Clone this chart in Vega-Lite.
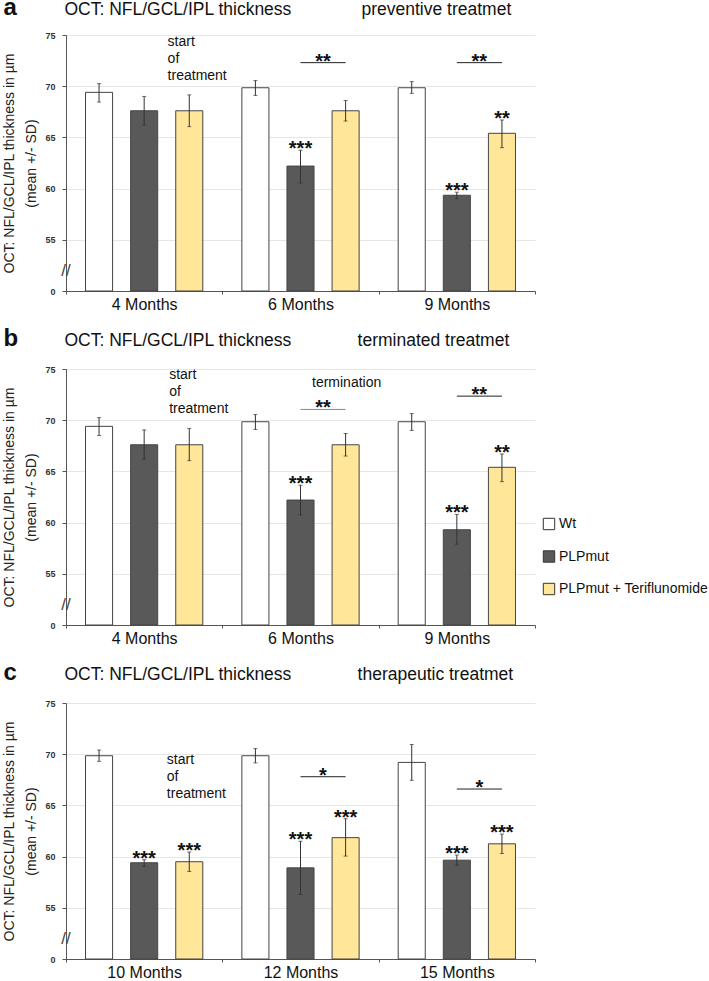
{
  "$schema": "https://vega.github.io/schema/vega-lite/v6.json",
  "padding": {"left": 2, "top": -5, "right": 0, "bottom": 0},
  "spacing": 15,
  "config": {
    "font": "Liberation Sans",
    "view": {"stroke": null},
    "text": {"font": "Liberation Sans", "color": "#111"},
    "axisX": {"tickBand": "extent", "labelAngle": 0, "labelFontSize": 16, "labelPadding": 2, "tickSize": 3, "domainColor": "#555", "tickColor": "#555", "labelColor": "#111", "grid": false, "title": null},
    "axisY": {"values": [50, 55, 60, 65, 70, 75], "labelExpr": "datum.value == 50 ? '0' : datum.label", "labelFontSize": 9, "labelFontWeight": "bold", "labelColor": "#333", "tickSize": 4, "labelPadding": 7, "domainColor": "#555", "tickColor": "#555", "grid": true, "gridColor": "#e6e6e6", "titleFontSize": 14, "titleFontWeight": "normal", "titleColor": "#222", "titlePadding": 6, "titleLineHeight": 22}
  },
  "datasets": {
    "bars": [
      {"panel": "a", "group": "4 Months", "sub": "Wt", "mean": 69.4, "lo": 68.45, "hi": 70.25, "star": ""},
      {"panel": "a", "group": "4 Months", "sub": "PLPmut", "mean": 67.6, "lo": 66.2, "hi": 69.0, "star": ""},
      {"panel": "a", "group": "4 Months", "sub": "PLPmut + Teriflunomide", "mean": 67.6, "lo": 66.05, "hi": 69.15, "star": ""},
      {"panel": "a", "group": "6 Months", "sub": "Wt", "mean": 69.85, "lo": 69.1, "hi": 70.55, "star": ""},
      {"panel": "a", "group": "6 Months", "sub": "PLPmut", "mean": 62.2, "lo": 60.55, "hi": 63.75, "star": "***"},
      {"panel": "a", "group": "6 Months", "sub": "PLPmut + Teriflunomide", "mean": 67.6, "lo": 66.6, "hi": 68.6, "star": ""},
      {"panel": "a", "group": "9 Months", "sub": "Wt", "mean": 69.85, "lo": 69.3, "hi": 70.45, "star": ""},
      {"panel": "a", "group": "9 Months", "sub": "PLPmut", "mean": 59.35, "lo": 59.0, "hi": 59.65, "star": "***"},
      {"panel": "a", "group": "9 Months", "sub": "PLPmut + Teriflunomide", "mean": 65.4, "lo": 64.0, "hi": 66.7, "star": "**"},
      {"panel": "b", "group": "4 Months", "sub": "Wt", "mean": 69.4, "lo": 68.5, "hi": 70.25, "star": ""},
      {"panel": "b", "group": "4 Months", "sub": "PLPmut", "mean": 67.6, "lo": 66.2, "hi": 69.05, "star": ""},
      {"panel": "b", "group": "4 Months", "sub": "PLPmut + Teriflunomide", "mean": 67.6, "lo": 66.05, "hi": 69.2, "star": ""},
      {"panel": "b", "group": "6 Months", "sub": "Wt", "mean": 69.85, "lo": 69.1, "hi": 70.55, "star": ""},
      {"panel": "b", "group": "6 Months", "sub": "PLPmut", "mean": 62.2, "lo": 60.75, "hi": 63.65, "star": "***"},
      {"panel": "b", "group": "6 Months", "sub": "PLPmut + Teriflunomide", "mean": 67.6, "lo": 66.5, "hi": 68.7, "star": ""},
      {"panel": "b", "group": "9 Months", "sub": "Wt", "mean": 69.85, "lo": 69.0, "hi": 70.65, "star": ""},
      {"panel": "b", "group": "9 Months", "sub": "PLPmut", "mean": 59.3, "lo": 57.9, "hi": 60.8, "star": "***"},
      {"panel": "b", "group": "9 Months", "sub": "PLPmut + Teriflunomide", "mean": 65.4, "lo": 64.0, "hi": 66.7, "star": "**"},
      {"panel": "c", "group": "10 Months", "sub": "Wt", "mean": 69.85, "lo": 69.3, "hi": 70.4, "star": ""},
      {"panel": "c", "group": "10 Months", "sub": "PLPmut", "mean": 59.4, "lo": 59.05, "hi": 59.7, "star": "***"},
      {"panel": "c", "group": "10 Months", "sub": "PLPmut + Teriflunomide", "mean": 59.5, "lo": 58.55, "hi": 60.45, "star": "***"},
      {"panel": "c", "group": "12 Months", "sub": "Wt", "mean": 69.85, "lo": 69.15, "hi": 70.55, "star": ""},
      {"panel": "c", "group": "12 Months", "sub": "PLPmut", "mean": 58.9, "lo": 56.3, "hi": 61.5, "star": "***"},
      {"panel": "c", "group": "12 Months", "sub": "PLPmut + Teriflunomide", "mean": 61.85, "lo": 60.05, "hi": 63.7, "star": "***"},
      {"panel": "c", "group": "15 Months", "sub": "Wt", "mean": 69.2, "lo": 67.45, "hi": 70.95, "star": ""},
      {"panel": "c", "group": "15 Months", "sub": "PLPmut", "mean": 59.65, "lo": 59.15, "hi": 60.15, "star": "***"},
      {"panel": "c", "group": "15 Months", "sub": "PLPmut + Teriflunomide", "mean": 61.25, "lo": 60.3, "hi": 62.2, "star": "***"}
    ],
    "sig": [
      {"panel": "a", "group": "6 Months", "y": 72.3, "label": "**", "from": "PLPmut", "to": "PLPmut + Teriflunomide"},
      {"panel": "a", "group": "9 Months", "y": 72.3, "label": "**", "from": "PLPmut", "to": "PLPmut + Teriflunomide"},
      {"panel": "b", "group": "6 Months", "y": 71.05, "label": "**", "from": "PLPmut", "to": "PLPmut + Teriflunomide"},
      {"panel": "b", "group": "9 Months", "y": 72.35, "label": "**", "from": "PLPmut", "to": "PLPmut + Teriflunomide"},
      {"panel": "c", "group": "12 Months", "y": 67.8, "label": "*", "from": "PLPmut", "to": "PLPmut + Teriflunomide"},
      {"panel": "c", "group": "15 Months", "y": 66.6, "label": "*", "from": "PLPmut", "to": "PLPmut + Teriflunomide"}
    ]
  },
  "resolve": {"legend": {"fill": "independent"}},
  "vconcat": [
    {
      "width": 469, "height": 256,
      "layer": [
        {"data": {"name": "bars"}, "transform": [{"filter": "datum.panel == 'a'"}],
         "mark": {"type": "bar", "stroke": "#444", "strokeWidth": 1},
         "encoding": {
           "x": {"field": "group", "type": "nominal", "scale": {"domain": ["4 Months", "6 Months", "9 Months"], "paddingInner": 0, "paddingOuter": 0}, "title": null},
           "xOffset": {"field": "sub", "type": "nominal", "scale": {"domain": ["Wt", "PLPmut", "PLPmut + Teriflunomide"], "paddingInner": 0.4, "paddingOuter": 0.433}},
           "y": {"field": "mean", "type": "quantitative", "scale": {"domain": [50, 75], "nice": false, "zero": false}, "title": ["OCT: NFL/GCL/IPL thickness in µm", "(mean +/- SD)"]},
           "y2": {"datum": 50},
           "fill": {"field": "sub", "type": "nominal", "scale": {"domain": ["Wt", "PLPmut", "PLPmut + Teriflunomide"], "range": ["#ffffff", "#595959", "#ffe699"]}, "legend": null}
         }},
        {"data": {"name": "bars"}, "transform": [{"filter": "datum.panel == 'a'"}],
         "mark": {"type": "rule", "color": "#333", "strokeWidth": 1},
         "encoding": {"x": {"field": "group", "type": "nominal"}, "xOffset": {"field": "sub", "type": "nominal"}, "y": {"field": "lo", "type": "quantitative"}, "y2": {"field": "hi"}}},
        {"data": {"name": "bars"}, "transform": [{"filter": "datum.panel == 'a'"}, {"fold": ["lo", "hi"], "as": ["end", "v"]}],
         "mark": {"type": "tick", "color": "#333", "size": 4, "thickness": 1, "orient": "horizontal"},
         "encoding": {"x": {"field": "group", "type": "nominal"}, "xOffset": {"field": "sub", "type": "nominal"}, "y": {"field": "v", "type": "quantitative"}}},
        {"data": {"name": "bars"}, "transform": [{"filter": "datum.panel == 'a' && datum.star != ''"}],
         "mark": {"type": "text", "fontSize": 20, "fontWeight": "bold", "dy": 5, "baseline": "alphabetic", "align": "center"},
         "encoding": {"x": {"field": "group", "type": "nominal"}, "xOffset": {"field": "sub", "type": "nominal"}, "y": {"field": "hi", "type": "quantitative"}, "text": {"field": "star"}}},
        {"data": {"name": "sig"}, "transform": [{"filter": "datum.panel == 'a'"}, {"fold": ["from", "to"], "as": ["end", "sub"]}],
         "mark": {"type": "line", "strokeWidth": 1, "color": "#222"},
         "encoding": {"x": {"field": "group", "type": "nominal"}, "xOffset": {"field": "sub", "type": "nominal"}, "y": {"field": "y", "type": "quantitative"}, "detail": {"field": "group"}}},
        {"data": {"name": "sig"}, "transform": [{"filter": "datum.panel == 'a'"}],
         "mark": {"type": "text", "fontSize": 20, "fontWeight": "bold", "dy": 5, "baseline": "alphabetic", "align": "center"},
         "encoding": {"x": {"field": "group", "type": "nominal", "bandPosition": 0.644}, "y": {"field": "y", "type": "quantitative"}, "text": {"field": "label"}}},
        {"data": {"values": [{"group": "4 Months"}]},
         "mark": {"type": "text", "text": ["start", "of", "treatment"], "align": "left", "baseline": "top", "fontSize": 14, "lineHeight": 17},
         "encoding": {"x": {"field": "group", "type": "nominal", "bandPosition": 0.65}, "y": {"datum": 75, "type": "quantitative"}}},
        {"data": {"values": [{"group": "4 Months"}]},
         "mark": {"type": "text", "text": "OCT: NFL/GCL/IPL thickness", "align": "left", "baseline": "alphabetic", "fontSize": 17.5},
         "encoding": {"x": {"field": "group", "type": "nominal", "bandPosition": -0.01}, "y": {"datum": 77.0, "type": "quantitative"}}},
        {"data": {"values": [{"group": "6 Months"}]},
         "mark": {"type": "text", "text": "preventive treatmet", "align": "left", "baseline": "alphabetic", "fontSize": 17.5},
         "encoding": {"x": {"field": "group", "type": "nominal", "bandPosition": 0.89}, "y": {"datum": 77.0, "type": "quantitative"}}},
        {"data": {"values": [{"group": "4 Months"}]},
         "mark": {"type": "text", "text": "a", "align": "left", "baseline": "alphabetic", "fontSize": 24, "fontWeight": "bold"},
         "encoding": {"x": {"field": "group", "type": "nominal", "bandPosition": -0.4}, "y": {"datum": 77.0, "type": "quantitative"}}},
        {"data": {"values": [{"group": "4 Months"}]},
         "mark": {"type": "text", "text": "//", "align": "center", "baseline": "middle", "fontSize": 17, "color": "#444"},
         "encoding": {"x": {"field": "group", "type": "nominal", "bandPosition": 0}, "y": {"datum": 52, "type": "quantitative"}}}
      ]
    },
    {
      "width": 469, "height": 256,
      "layer": [
        {"data": {"name": "bars"}, "transform": [{"filter": "datum.panel == 'b'"}],
         "mark": {"type": "bar", "stroke": "#444", "strokeWidth": 1},
         "encoding": {
           "x": {"field": "group", "type": "nominal", "scale": {"domain": ["4 Months", "6 Months", "9 Months"], "paddingInner": 0, "paddingOuter": 0}, "title": null},
           "xOffset": {"field": "sub", "type": "nominal", "scale": {"domain": ["Wt", "PLPmut", "PLPmut + Teriflunomide"], "paddingInner": 0.4, "paddingOuter": 0.433}},
           "y": {"field": "mean", "type": "quantitative", "scale": {"domain": [50, 75], "nice": false, "zero": false}, "title": ["OCT: NFL/GCL/IPL thickness in µm", "(mean +/- SD)"]},
           "y2": {"datum": 50},
           "fill": {"field": "sub", "type": "nominal", "scale": {"domain": ["Wt", "PLPmut", "PLPmut + Teriflunomide"], "range": ["#ffffff", "#595959", "#ffe699"]},
             "legend": {"orient": "none", "legendX": 476, "legendY": 148, "title": null, "symbolType": "square", "symbolSize": 130, "symbolStrokeColor": "#333", "symbolStrokeWidth": 1, "labelFontSize": 14, "labelColor": "#111", "rowPadding": 16.5, "labelLimit": 300, "labelOffset": 3}}
         }},
        {"data": {"name": "bars"}, "transform": [{"filter": "datum.panel == 'b'"}],
         "mark": {"type": "rule", "color": "#333", "strokeWidth": 1},
         "encoding": {"x": {"field": "group", "type": "nominal"}, "xOffset": {"field": "sub", "type": "nominal"}, "y": {"field": "lo", "type": "quantitative"}, "y2": {"field": "hi"}}},
        {"data": {"name": "bars"}, "transform": [{"filter": "datum.panel == 'b'"}, {"fold": ["lo", "hi"], "as": ["end", "v"]}],
         "mark": {"type": "tick", "color": "#333", "size": 4, "thickness": 1, "orient": "horizontal"},
         "encoding": {"x": {"field": "group", "type": "nominal"}, "xOffset": {"field": "sub", "type": "nominal"}, "y": {"field": "v", "type": "quantitative"}}},
        {"data": {"name": "bars"}, "transform": [{"filter": "datum.panel == 'b' && datum.star != ''"}],
         "mark": {"type": "text", "fontSize": 20, "fontWeight": "bold", "dy": 5, "baseline": "alphabetic", "align": "center"},
         "encoding": {"x": {"field": "group", "type": "nominal"}, "xOffset": {"field": "sub", "type": "nominal"}, "y": {"field": "hi", "type": "quantitative"}, "text": {"field": "star"}}},
        {"data": {"name": "sig"}, "transform": [{"filter": "datum.panel == 'b'"}, {"fold": ["from", "to"], "as": ["end", "sub"]}],
         "mark": {"type": "line", "strokeWidth": 1},
         "encoding": {"x": {"field": "group", "type": "nominal"}, "xOffset": {"field": "sub", "type": "nominal"}, "y": {"field": "y", "type": "quantitative"}, "detail": {"field": "group"},
           "color": {"condition": {"test": "datum.group == '6 Months'", "value": "#888"}, "value": "#222"}}},
        {"data": {"name": "sig"}, "transform": [{"filter": "datum.panel == 'b'"}],
         "mark": {"type": "text", "fontSize": 20, "fontWeight": "bold", "dy": 5, "baseline": "alphabetic", "align": "center"},
         "encoding": {"x": {"field": "group", "type": "nominal", "bandPosition": 0.644}, "y": {"field": "y", "type": "quantitative"}, "text": {"field": "label"}}},
        {"data": {"values": [{"group": "4 Months"}]},
         "mark": {"type": "text", "text": ["start", "of", "treatment"], "align": "left", "baseline": "top", "fontSize": 14, "lineHeight": 17},
         "encoding": {"x": {"field": "group", "type": "nominal", "bandPosition": 0.66}, "y": {"datum": 75.1, "type": "quantitative"}}},
        {"data": {"values": [{"group": "6 Months"}]},
         "mark": {"type": "text", "text": "termination", "align": "center", "baseline": "middle", "fontSize": 14},
         "encoding": {"x": {"field": "group", "type": "nominal", "bandPosition": 0.795}, "y": {"datum": 73.6, "type": "quantitative"}}},
        {"data": {"values": [{"group": "4 Months"}]},
         "mark": {"type": "text", "text": "OCT: NFL/GCL/IPL thickness", "align": "left", "baseline": "alphabetic", "fontSize": 17.5},
         "encoding": {"x": {"field": "group", "type": "nominal", "bandPosition": -0.01}, "y": {"datum": 77.2, "type": "quantitative"}}},
        {"data": {"values": [{"group": "6 Months"}]},
         "mark": {"type": "text", "text": "terminated treatmet", "align": "left", "baseline": "alphabetic", "fontSize": 17.5},
         "encoding": {"x": {"field": "group", "type": "nominal", "bandPosition": 0.865}, "y": {"datum": 77.2, "type": "quantitative"}}},
        {"data": {"values": [{"group": "4 Months"}]},
         "mark": {"type": "text", "text": "b", "align": "left", "baseline": "alphabetic", "fontSize": 24, "fontWeight": "bold"},
         "encoding": {"x": {"field": "group", "type": "nominal", "bandPosition": -0.4}, "y": {"datum": 77.2, "type": "quantitative"}}},
        {"data": {"values": [{"group": "4 Months"}]},
         "mark": {"type": "text", "text": "//", "align": "center", "baseline": "middle", "fontSize": 17, "color": "#444"},
         "encoding": {"x": {"field": "group", "type": "nominal", "bandPosition": 0}, "y": {"datum": 52, "type": "quantitative"}}}
      ]
    },
    {
      "width": 469, "height": 256,
      "layer": [
        {"data": {"name": "bars"}, "transform": [{"filter": "datum.panel == 'c'"}],
         "mark": {"type": "bar", "stroke": "#444", "strokeWidth": 1},
         "encoding": {
           "x": {"field": "group", "type": "nominal", "scale": {"domain": ["10 Months", "12 Months", "15 Months"], "paddingInner": 0, "paddingOuter": 0}, "title": null},
           "xOffset": {"field": "sub", "type": "nominal", "scale": {"domain": ["Wt", "PLPmut", "PLPmut + Teriflunomide"], "paddingInner": 0.4, "paddingOuter": 0.433}},
           "y": {"field": "mean", "type": "quantitative", "scale": {"domain": [50, 75], "nice": false, "zero": false}, "title": ["OCT: NFL/GCL/IPL thickness in µm", "(mean +/- SD)"]},
           "y2": {"datum": 50},
           "fill": {"field": "sub", "type": "nominal", "scale": {"domain": ["Wt", "PLPmut", "PLPmut + Teriflunomide"], "range": ["#ffffff", "#595959", "#ffe699"]}, "legend": null}
         }},
        {"data": {"name": "bars"}, "transform": [{"filter": "datum.panel == 'c'"}],
         "mark": {"type": "rule", "color": "#333", "strokeWidth": 1},
         "encoding": {"x": {"field": "group", "type": "nominal"}, "xOffset": {"field": "sub", "type": "nominal"}, "y": {"field": "lo", "type": "quantitative"}, "y2": {"field": "hi"}}},
        {"data": {"name": "bars"}, "transform": [{"filter": "datum.panel == 'c'"}, {"fold": ["lo", "hi"], "as": ["end", "v"]}],
         "mark": {"type": "tick", "color": "#333", "size": 4, "thickness": 1, "orient": "horizontal"},
         "encoding": {"x": {"field": "group", "type": "nominal"}, "xOffset": {"field": "sub", "type": "nominal"}, "y": {"field": "v", "type": "quantitative"}}},
        {"data": {"name": "bars"}, "transform": [{"filter": "datum.panel == 'c' && datum.star != ''"}],
         "mark": {"type": "text", "fontSize": 20, "fontWeight": "bold", "dy": 5, "baseline": "alphabetic", "align": "center"},
         "encoding": {"x": {"field": "group", "type": "nominal"}, "xOffset": {"field": "sub", "type": "nominal"}, "y": {"field": "hi", "type": "quantitative"}, "text": {"field": "star"}}},
        {"data": {"name": "sig"}, "transform": [{"filter": "datum.panel == 'c'"}, {"fold": ["from", "to"], "as": ["end", "sub"]}],
         "mark": {"type": "line", "strokeWidth": 1, "color": "#222"},
         "encoding": {"x": {"field": "group", "type": "nominal"}, "xOffset": {"field": "sub", "type": "nominal"}, "y": {"field": "y", "type": "quantitative"}, "detail": {"field": "group"}}},
        {"data": {"name": "sig"}, "transform": [{"filter": "datum.panel == 'c'"}],
         "mark": {"type": "text", "fontSize": 20, "fontWeight": "bold", "dy": 5, "baseline": "alphabetic", "align": "center"},
         "encoding": {"x": {"field": "group", "type": "nominal", "bandPosition": 0.644}, "y": {"field": "y", "type": "quantitative"}, "text": {"field": "label"}}},
        {"data": {"values": [{"group": "10 Months"}]},
         "mark": {"type": "text", "text": ["start", "of", "treatment"], "align": "left", "baseline": "top", "fontSize": 14, "lineHeight": 17},
         "encoding": {"x": {"field": "group", "type": "nominal", "bandPosition": 0.645}, "y": {"datum": 70.1, "type": "quantitative"}}},
        {"data": {"values": [{"group": "10 Months"}]},
         "mark": {"type": "text", "text": "OCT: NFL/GCL/IPL thickness", "align": "left", "baseline": "alphabetic", "fontSize": 17.5},
         "encoding": {"x": {"field": "group", "type": "nominal", "bandPosition": -0.01}, "y": {"datum": 77.2, "type": "quantitative"}}},
        {"data": {"values": [{"group": "12 Months"}]},
         "mark": {"type": "text", "text": "therapeutic treatmet", "align": "left", "baseline": "alphabetic", "fontSize": 17.5},
         "encoding": {"x": {"field": "group", "type": "nominal", "bandPosition": 0.865}, "y": {"datum": 77.2, "type": "quantitative"}}},
        {"data": {"values": [{"group": "10 Months"}]},
         "mark": {"type": "text", "text": "c", "align": "left", "baseline": "alphabetic", "fontSize": 24, "fontWeight": "bold"},
         "encoding": {"x": {"field": "group", "type": "nominal", "bandPosition": -0.4}, "y": {"datum": 77.2, "type": "quantitative"}}},
        {"data": {"values": [{"group": "10 Months"}]},
         "mark": {"type": "text", "text": "//", "align": "center", "baseline": "middle", "fontSize": 17, "color": "#444"},
         "encoding": {"x": {"field": "group", "type": "nominal", "bandPosition": 0}, "y": {"datum": 52, "type": "quantitative"}}}
      ]
    }
  ]
}
